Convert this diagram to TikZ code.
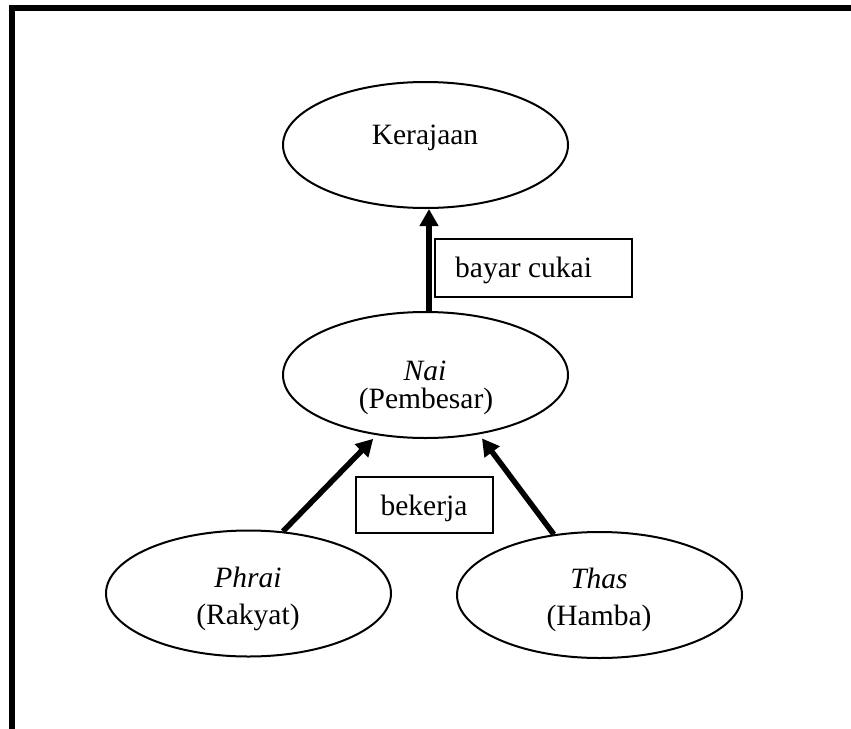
\documentclass[tikz,border=0pt]{standalone}
\usepackage{fontspec}
\setmainfont{Liberation Serif}
\usetikzlibrary{shapes.geometric,arrows.meta}
\begin{document}
\begin{tikzpicture}[x=1pt,y=-1pt,
  oval/.style={draw,ellipse,line width=2pt,minimum width=285pt,minimum height=126pt,inner sep=0pt},
  lbl/.style={anchor=base,inner sep=0pt,font=\fontsize{29.5}{34}\selectfont},
  tagbox/.style={draw,line width=1.4pt,inner sep=0pt},
  arr/.style={line width=5.5pt,-{Triangle[length=17pt,width=18pt]}}]
\useasboundingbox (0,0) rectangle (851,728);
\fill[white] (0,0) rectangle (851,728);
\draw[line width=6pt,miter limit=10] (12,730) -- (12,8) -- (853,8);
% ellipses
\node[oval] (ker) at (425.5,145) {};
\node[oval] (nai) at (425.5,375) {};
\node[oval] (phr) at (248.5,593.5) {};
\node[oval] (tha) at (599.5,595) {};
% texts
\node[lbl] (kerT) at (425,144) {Kerajaan};
\node[lbl] (naiT) at (425,380) {\itshape Nai};
\node[lbl] (naiT2) at (426,408) {(Pembesar)};
\node[lbl] (phrT) at (248,587) {\itshape Phrai};
\node[lbl] (phrT2) at (248,624) {(Rakyat)};
\node[lbl] (thaT) at (599,588) {\itshape Thas};
\node[lbl] (thaT2) at (599,625) {(Hamba)};
% label boxes
\node[tagbox,minimum width=197pt,minimum height=58pt] (bcbox) at (533.5,268) {};
\node[lbl,anchor=base west] (bct) at (455,277) {bayar cukai};
\node[tagbox,minimum width=137pt,minimum height=56pt] (bkbox) at (424.5,505) {};
\node[lbl] (bkt) at (424,515) {bekerja};
% arrows
\draw[arr] ([xshift=3.5pt]nai.north) -- ([xshift=3.5pt]ker.south);
\draw[arr,shorten >=5pt] (phr.61) -- (nai.231);
\draw[arr,shorten >=5pt] (tha.127) -- (nai.312);
\end{tikzpicture}
\end{document}
